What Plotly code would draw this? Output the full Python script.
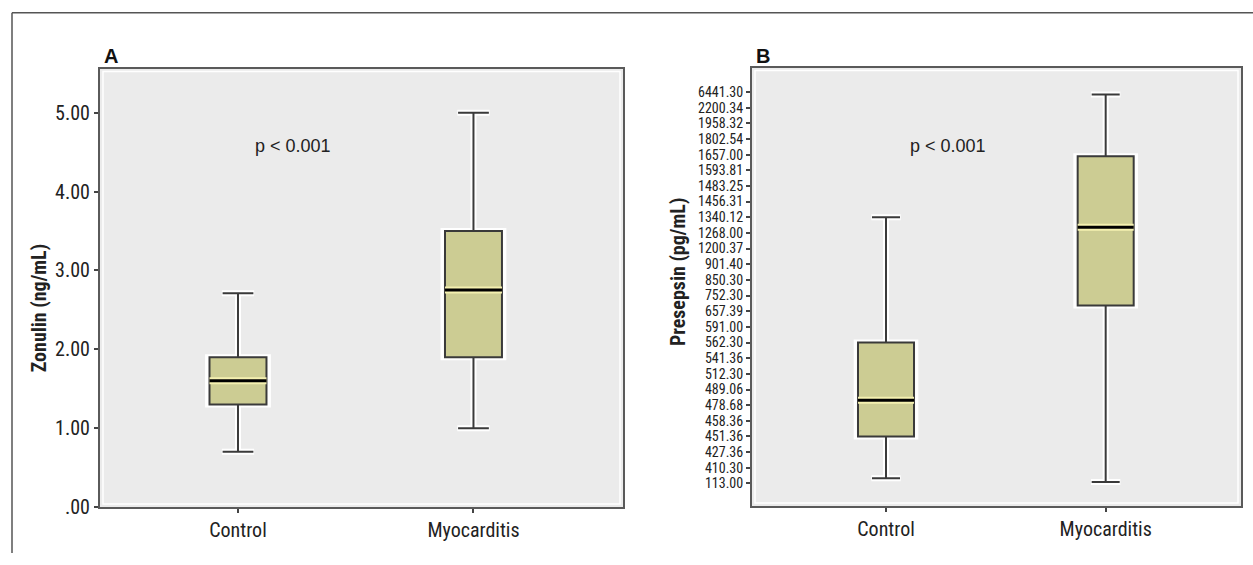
import numpy as np
import plotly.graph_objects as go

W, H = 1253, 565

# ---------------- data ----------------
groups = ["Control", "Myocarditis"]

# Panel A: Zonulin (ng/mL)
zon_lower = [0.70, 1.00]
zon_q1 = [1.30, 1.90]
zon_median = [1.60, 2.75]
zon_q3 = [1.90, 3.50]
zon_upper = [2.71, 5.00]
zon_ticks = [0, 1, 2, 3, 4, 5]
zon_ticktext = [".00", "1.00", "2.00", "3.00", "4.00", "5.00"]

# Panel B: Presepsin (pg/mL) -- axis labelled with ordered observed values
pre_ticklabels = ["113.00", "410.30", "427.36", "451.36", "458.36", "478.68", "489.06",
                  "512.30", "541.36", "562.30", "591.00", "657.39", "752.30", "850.30",
                  "901.40", "1200.37", "1268.00", "1340.12", "1456.31", "1483.25",
                  "1593.81", "1657.00", "1802.54", "1958.32", "2200.34", "6441.30"]
pre_lower = [211.0, 143.0]
pre_q1 = [451.36, 692.0]
pre_median = [482.0, 1294.0]
pre_q3 = [562.30, 1650.0]
pre_upper = [1340.12, 5720.0]

p_text = "p < 0.001"

# ---------------- scales ----------------
pre_tickvals_num = np.array([float(t) for t in pre_ticklabels])
pre_pos = np.arange(len(pre_ticklabels))


def pre_scale(v):
    return list(np.interp(v, pre_tickvals_num, pre_pos))


NARROW = "Liberation Sans Narrow, Arial Narrow, Roboto Condensed, DejaVu Sans Condensed, sans-serif"
REG = "Liberation Sans, Arial, sans-serif"
FILL = "#cccc93"
EDGE = "#3a3a3a"


def px(x):
    return x / W


def py(y):
    return 1 - y / H


fig = go.Figure()


def add_boxes(xaxis, yaxis, lower, q1, med, q3, upper, width, wwidth):
    for i, g in enumerate(groups):
        # white halo
        fig.add_trace(go.Box(
            x=[i], lowerfence=[lower[i]], q1=[q1[i]], median=[med[i]], q3=[q3[i]],
            upperfence=[upper[i]], width=width + 0.012, whiskerwidth=wwidth,
            fillcolor="rgba(0,0,0,0)", line=dict(color="white", width=6),
            xaxis=xaxis, yaxis=yaxis, showlegend=False, hoverinfo="skip"))
        fig.add_trace(go.Box(
            x=[i], lowerfence=[lower[i]], q1=[q1[i]], median=[med[i]], q3=[q3[i]],
            upperfence=[upper[i]], width=width, whiskerwidth=wwidth,
            fillcolor=FILL, line=dict(color=EDGE, width=2),
            xaxis=xaxis, yaxis=yaxis, showlegend=False, name=g))
        # thick median
        fig.add_trace(go.Scatter(
            x=[i - width / 2, i + width / 2], y=[med[i], med[i]], mode="lines",
            line=dict(color="#f4f0b0", width=7), xaxis=xaxis, yaxis=yaxis,
            showlegend=False, hoverinfo="skip"))
        fig.add_trace(go.Scatter(
            x=[i - width / 2, i + width / 2], y=[med[i], med[i]], mode="lines",
            line=dict(color="black", width=3), xaxis=xaxis, yaxis=yaxis,
            showlegend=False, hoverinfo="skip"))


add_boxes("x", "y", zon_lower, zon_q1, zon_median, zon_q3, zon_upper, 0.242, 0.54)
add_boxes("x2", "y2", pre_scale(pre_lower), pre_scale(pre_q1), pre_scale(pre_median),
          pre_scale(pre_q3), pre_scale(pre_upper), 0.255, 0.5)

# panel geometry (pixels)
A = dict(l=100, r=623, t=70, b=518)
B = dict(l=752, r=1241, t=69, b=517)

axis_common = dict(showgrid=False, zeroline=False, showline=True, mirror=True,
                   linecolor="#5a5a5a", linewidth=2, ticks="outside", ticklen=4,
                   tickwidth=2, tickcolor="#444")

fig.update_layout(
    width=W, height=H, margin=dict(l=0, r=0, t=0, b=0),
    paper_bgcolor="white", plot_bgcolor="#ebebeb",
    xaxis=dict(domain=[px(A["l"]), px(A["r"])], range=[-0.586, 1.635],
               tickvals=[0, 1], ticktext=groups, anchor="y",
               tickfont=dict(family=NARROW, size=20, color="#222"), **axis_common),
    yaxis=dict(domain=[py(A["b"]), py(A["t"])], range=[0, 5.56],
               tickvals=zon_ticks, ticktext=zon_ticktext, anchor="x",
               tickfont=dict(family=NARROW, size=20, color="#222"), **axis_common),
    xaxis2=dict(domain=[px(B["l"]), px(B["r"])], range=[-0.61, 1.616],
                tickvals=[0, 1], ticktext=groups, anchor="y2",
                tickfont=dict(family=NARROW, size=20, color="#222"), **axis_common),
    yaxis2=dict(domain=[py(B["b"]), py(B["t"])], range=[-1.44, 26.56],
                tickvals=list(pre_pos), ticktext=pre_ticklabels, anchor="x2",
                tickfont=dict(family=NARROW, size=14, color="#222"), **axis_common),
)

# inner white frame lines
for P in (A, B):
    fig.add_shape(type="rect", xref="paper", yref="paper",
                  x0=px(P["l"] + 3), x1=px(P["r"] - 3), y0=py(P["b"] - 3), y1=py(P["t"] + 3),
                  line=dict(color="white", width=1.5), layer="below")

# outer figure frame (top and left)
fig.add_shape(type="line", xref="paper", yref="paper", x0=px(12), x1=1, y0=py(13), y1=py(13),
              line=dict(color="#555", width=1.5))
fig.add_shape(type="line", xref="paper", yref="paper", x0=px(12), x1=px(12), y0=py(13), y1=0,
              line=dict(color="#555", width=1.5))

# annotations
fig.add_annotation(text="<b>A</b>", x=px(102), y=py(57), xref="paper", yref="paper",
                   xanchor="left", yanchor="middle", showarrow=False,
                   font=dict(family=REG, size=20, color="#111"))
fig.add_annotation(text="<b>B</b>", x=px(754), y=py(57), xref="paper", yref="paper",
                   xanchor="left", yanchor="middle", showarrow=False,
                   font=dict(family=REG, size=20, color="#111"))
fig.add_annotation(text=p_text, x=px(293), y=py(149), xref="paper", yref="paper",
                   xanchor="center", yanchor="middle", showarrow=False,
                   font=dict(family=REG, size=18, color="#222"))
fig.add_annotation(text=p_text, x=px(948), y=py(149), xref="paper", yref="paper",
                   xanchor="center", yanchor="middle", showarrow=False,
                   font=dict(family=REG, size=18, color="#222"))
fig.add_annotation(text="<b>Zonulin (ng/mL)</b>", x=px(39), y=py(315), xref="paper", yref="paper",
                   xanchor="center", yanchor="middle", showarrow=False, textangle=-90,
                   font=dict(family=NARROW, size=20, color="#222"))
fig.add_annotation(text="<b>Presepsin (pg/mL)</b>", x=px(678), y=py(278), xref="paper", yref="paper",
                   xanchor="center", yanchor="middle", showarrow=False, textangle=-90,
                   font=dict(family=NARROW, size=20, color="#222"))

fig.write_html("out.html", config={"displayModeBar": False},
               post_script="document.body.style.margin='0';document.body.style.overflow='hidden';")
